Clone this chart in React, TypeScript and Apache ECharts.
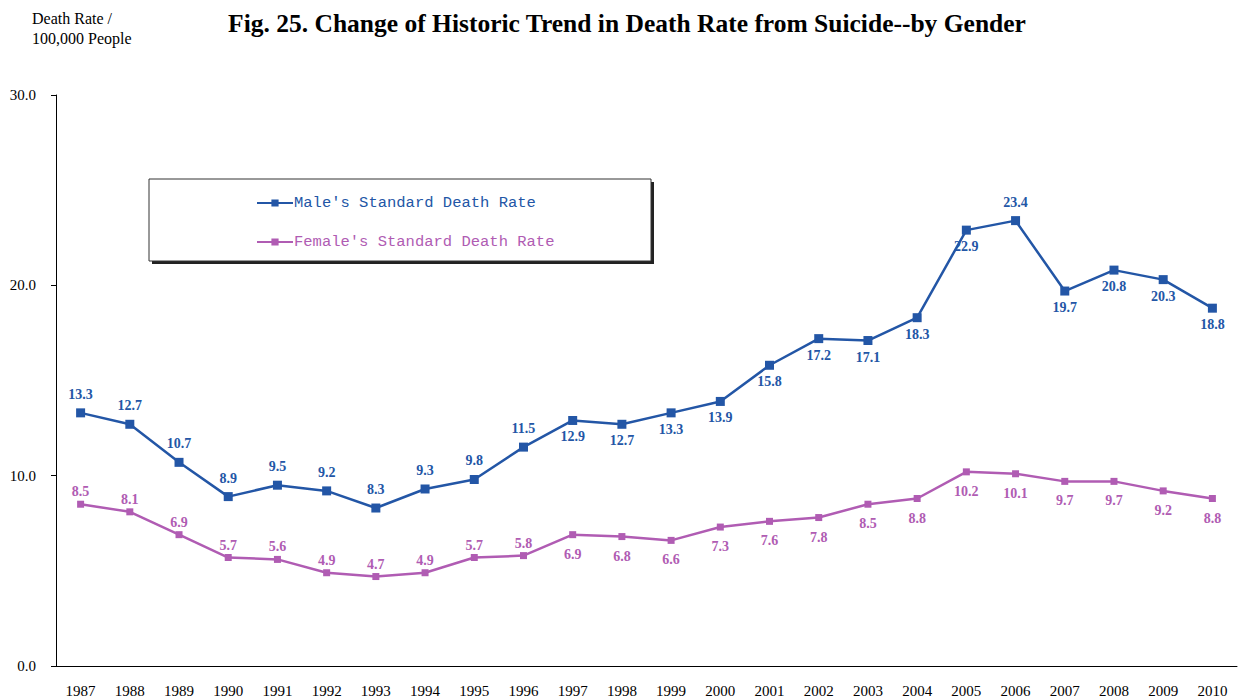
import React, { useEffect, useRef } from "react";
import * as echarts from "echarts";

const years = ["1987","1988","1989","1990","1991","1992","1993","1994","1995","1996","1997","1998","1999","2000","2001","2002","2003","2004","2005","2006","2007","2008","2009","2010"];
const maleRates = [13.3,12.7,10.7,8.9,9.5,9.2,8.3,9.3,9.8,11.5,12.9,12.7,13.3,13.9,15.8,17.2,17.1,18.3,22.9,23.4,19.7,20.8,20.3,18.8];
const femaleRates = [8.5,8.1,6.9,5.7,5.6,4.9,4.7,4.9,5.7,5.8,6.9,6.8,6.6,7.3,7.6,7.8,8.5,8.8,10.2,10.1,9.7,9.7,9.2,8.8];
const yTicks = [0, 10, 20, 30];
const maleName = "Male's Standard Death Rate";
const femaleName = "Female's Standard Death Rate";
const titleText = "Fig. 25. Change of Historic Trend in Death Rate from Suicide--by Gender";
const yTitleLines = ["Death Rate /", "100,000 People"];

// years whose value labels sit above the point
const maleLabelAboveYears = ["1987","1988","1989","1990","1991","1992","1993","1994","1995","1996","2006"];
const femaleLabelAboveYears = ["1987","1988","1989","1990","1991","1992","1993","1994","1995","1996"];

const MALE = "#2356a6";
const FEMALE = "#b05cb3";
const SERIF = "'Liberation Serif', 'Times New Roman', serif";
const MONO = "'Liberation Mono', 'DejaVu Sans Mono', monospace";

export default function App() {
  const ref = useRef<HTMLDivElement>(null);
  useEffect(() => {
    if (!ref.current) return;
    const chart = echarts.init(ref.current, null, { renderer: "svg" });
    const mk = (vals: number[], above: string[], upDist: number, downDist: number) =>
      vals.map((v, i) => {
        const up = above.includes(years[i]);
        return { value: v, label: { position: up ? "top" : "bottom", distance: up ? upDist : downDist } };
      });
    chart.setOption({
      animation: false,
      backgroundColor: "#ffffff",
      title: {
        text: titleText,
        left: 622,
        textAlign: "center",
        top: 5,
        textStyle: { fontFamily: SERIF, fontSize: 25.5, fontWeight: "bold", color: "#000" },
      },
      graphic: [
        { type: "rect", z: 0, shape: { x: 152, y: 182, width: 502, height: 82 }, style: { fill: "#222" } },
        { type: "rect", z: 1, shape: { x: 149, y: 179, width: 502, height: 82 }, style: { fill: "#fff", stroke: "#333", lineWidth: 1 } },
        { type: "text", z: 1, left: 32, top: 10, style: { text: yTitleLines[0], font: `16px ${SERIF}`, fill: "#000" } },
        { type: "text", z: 1, left: 32, top: 30, style: { text: yTitleLines[1], font: `16px ${SERIF}`, fill: "#000" } },
      ],
      legend: {
        z: 10,
        orient: "vertical",
        left: 251,
        top: 190,
        itemWidth: 36,
        itemHeight: 9,
        itemGap: 23,
        textStyle: { fontFamily: MONO, fontSize: 15.5, padding: [0, 0, 0, -4] },
        data: [
          { name: maleName, textStyle: { color: MALE } },
          { name: femaleName, textStyle: { color: FEMALE } },
        ],
      },
      grid: { left: 56, right: 4, top: 95, bottom: 32, containLabel: false },
      xAxis: {
        type: "category",
        data: years,
        boundaryGap: true,
        axisLine: { lineStyle: { color: "#000", width: 1 } },
        axisTick: { inside: true, length: 5, alignWithLabel: false, lineStyle: { color: "#000" } },
        axisLabel: { fontFamily: SERIF, fontSize: 15, color: "#000", margin: 17, interval: 0 },
      },
      yAxis: {
        type: "value",
        min: yTicks[0],
        max: yTicks[yTicks.length - 1],
        interval: yTicks[1] - yTicks[0],
        axisLine: { show: true, lineStyle: { color: "#000", width: 1 } },
        axisTick: { show: true, length: 5, lineStyle: { color: "#000" } },
        splitLine: { show: false },
        axisLabel: { fontFamily: SERIF, fontSize: 15, color: "#000", margin: 20, formatter: (v: number) => v.toFixed(1) },
      },
      series: [
        {
          name: maleName,
          type: "line",
          data: mk(maleRates, maleLabelAboveYears, 7, 5),
          symbol: "rect",
          symbolSize: 9,
          itemStyle: { color: MALE },
          lineStyle: { color: MALE, width: 2.5 },
          label: { show: true, fontFamily: SERIF, fontSize: 14, fontWeight: "bold", color: MALE, formatter: (p: any) => p.value.toFixed(1) },
        },
        {
          name: femaleName,
          type: "line",
          data: mk(femaleRates, femaleLabelAboveYears, 2, 9),
          symbol: "rect",
          symbolSize: 7,
          itemStyle: { color: FEMALE },
          lineStyle: { color: FEMALE, width: 2.5 },
          label: { show: true, fontFamily: SERIF, fontSize: 14, fontWeight: "bold", color: FEMALE, formatter: (p: any) => p.value.toFixed(1) },
        },
      ],
    });
    return () => chart.dispose();
  }, []);
  return <div ref={ref} style={{ width: 1241, height: 698, position: "absolute", left: 0, top: 0 }} />;
}
